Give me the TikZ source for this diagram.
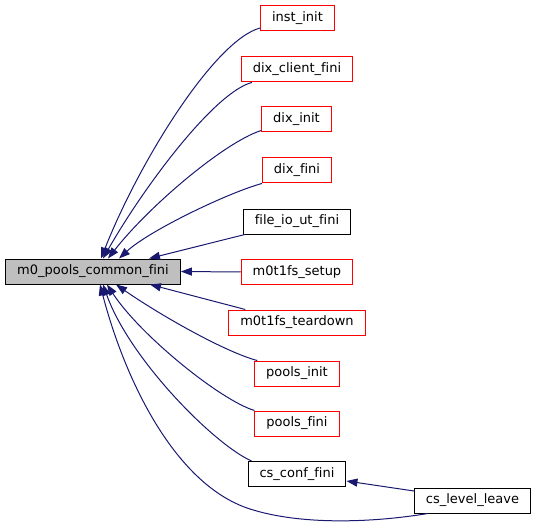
\documentclass[tikz,border=0pt]{standalone}
\usepackage{fontspec}
\setmainfont{DejaVu Sans}[Ligatures=CommonOff]
\usepackage{xcolor}
\usepackage{tikz}
\usetikzlibrary{arrows.meta, calc, positioning}

\begin{document}
\begin{tikzpicture}[x=1bp, y=-1bp,
    box/.style={draw, line width=1bp, minimum height=25bp, inner xsep=11.5bp, inner ysep=0pt,
        font=\fontsize{13bp}{15bp}\selectfont},
    redbox/.style={box, draw=red},
    blackbox/.style={box, draw=black},
    edge/.style={draw=edgeblue, line width=1bp, -{Triangle[length=11bp, width=8bp]}}]
    % Colours of the call graph
    \definecolor{edgeblue}{RGB}{25, 25, 112}
    \definecolor{mainfill}{RGB}{191, 191, 191}
    \useasboundingbox (0,0) rectangle (537,529);

    % 1. The function itself
    \node[blackbox, fill=mainfill] (common_fini) at (93,271.5) {m0\_pools\_common\_fini};

    % 2. Its callers
    \node[redbox] (inst_init) at (297.5,18) {inst\_init};
    \node[redbox] (dix_client_fini) at (297,69.5) {dix\_client\_fini};
    \node[redbox] (dix_init) at (296.5,119.5) {dix\_init};
    \node[redbox] (dix_fini) at (297,170.5) {dix\_fini};
    \node[blackbox] (file_io_ut_fini) at (297,221.5) {file\_io\_ut\_fini};
    \node[redbox] (m0t1fs_setup) at (297,272) {m0t1fs\_setup};
    \node[redbox] (m0t1fs_teardown) at (297,322.5) {m0t1fs\_teardown};
    \node[redbox] (pools_init) at (297,373.5) {pools\_init};
    \node[redbox] (pools_fini) at (297,423.5) {pools\_fini};
    \node[blackbox] (cs_conf_fini) at (297,474) {cs\_conf\_fini};
    \node[blackbox] (cs_level_leave) at (472.5,500.5) {cs\_level\_leave};

    % 3. Calls from above
    \draw[edge] ([yshift=-10bp]inst_init.west)
        .. controls (215,40) and (140,160) .. ([xshift=8bp]common_fini.north);
    \draw[edge] ([xshift=11bp]dix_client_fini.south west)
        .. controls (215,92) and (145,185) .. ([xshift=10bp]common_fini.north);
    \draw[edge] ([yshift=2bp]dix_init.south west)
        .. controls (225,142) and (150,205) .. ([xshift=15bp]common_fini.north);
    \draw[edge] (dix_fini.south west)
        .. controls (230,192) and (150,230) .. ([xshift=26bp]common_fini.north);
    \draw[edge] ([xshift=2bp]file_io_ut_fini.south west) -- ([xshift=56bp]common_fini.north);

    % 4. Straight across
    \draw[edge] (m0t1fs_setup.west) -- (common_fini.east);

    % 5. Calls from below
    \draw[edge] ([xshift=17bp]m0t1fs_teardown.north west) -- ([xshift=57bp]common_fini.south);
    \draw[edge] ([xshift=3bp]pools_init.north west)
        .. controls (225,352) and (160,315) .. ([xshift=23bp]common_fini.south);
    \draw[edge] (pools_fini.north west)
        .. controls (220,400) and (140,335) .. ([xshift=14bp]common_fini.south);
    \draw[edge] ([xshift=4bp]cs_conf_fini.north west)
        .. controls (215,445) and (130,360) .. ([xshift=10bp]common_fini.south);
    \coordinate (leave_bend) at (250,509);
    \draw[edge] ([xshift=14bp]cs_level_leave.south west)
        .. controls (370,523) and (300,525) .. (leave_bend)
        .. controls (175,485) and (125,380) .. ([xshift=7bp]common_fini.south);

    % 6. Second level
    \draw[edge] ([yshift=9.5bp]cs_level_leave.west) -- ([yshift=-7bp]cs_conf_fini.east);
\end{tikzpicture}
\end{document}
